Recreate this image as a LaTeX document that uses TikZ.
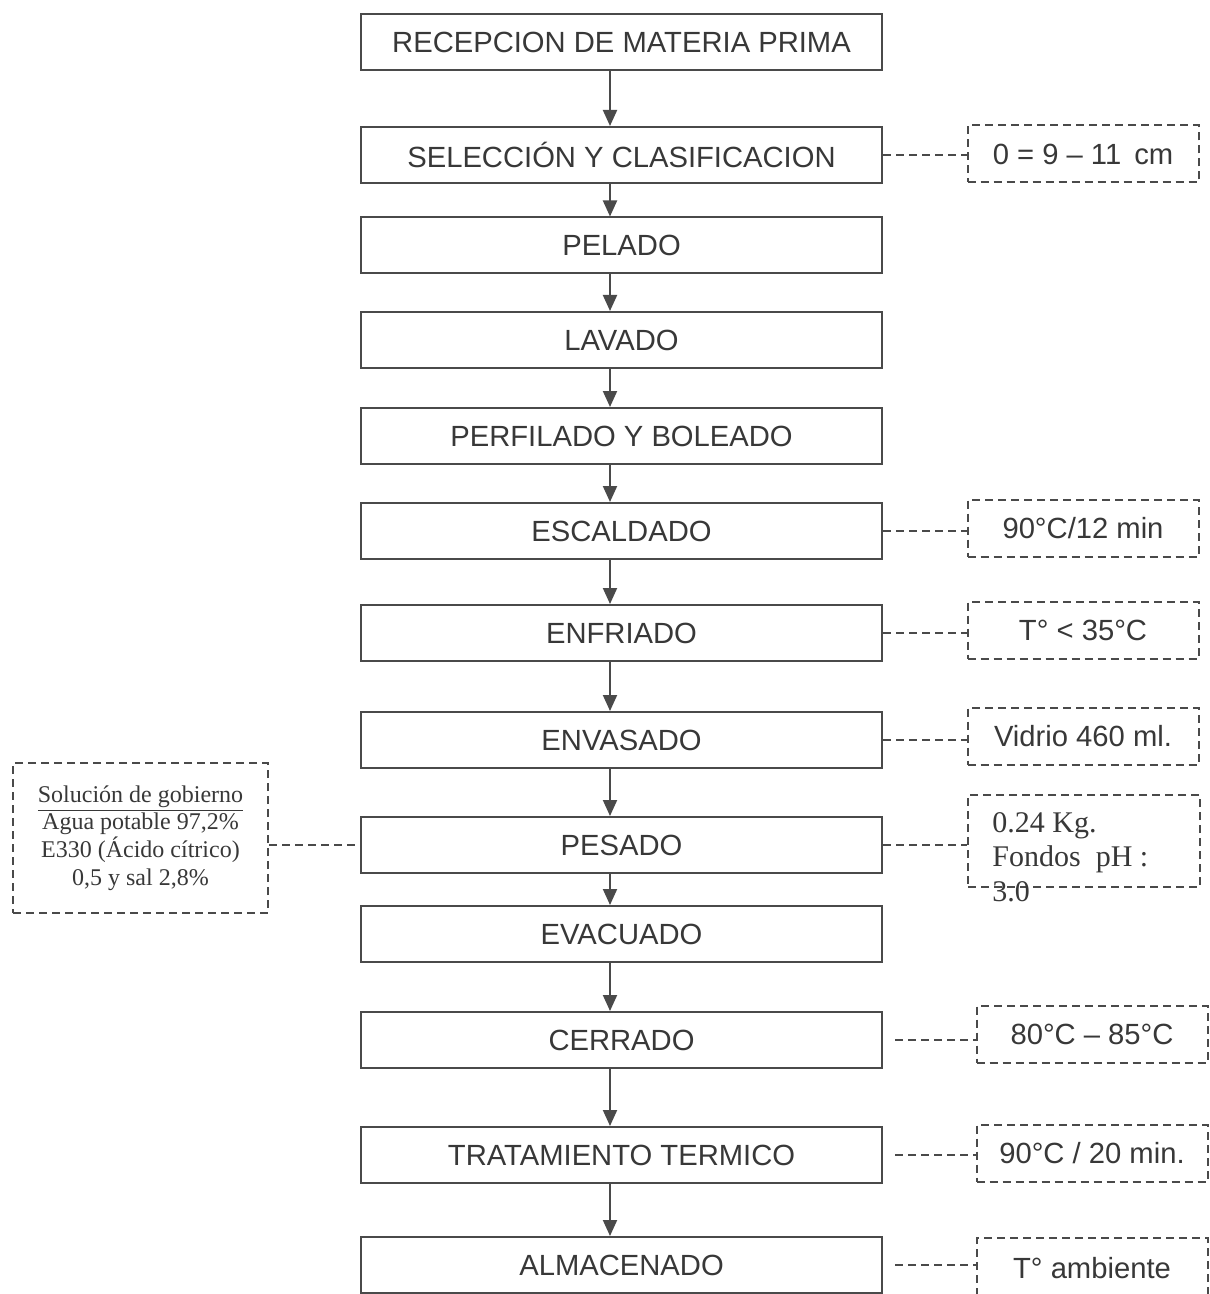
\documentclass[tikz,border=0pt]{standalone}
\usepackage{fontspec}
\setmainfont{Liberation Serif}
\newfontfamily\sansf{Liberation Sans}
\usetikzlibrary{arrows.meta}
\definecolor{linec}{HTML}{4A4A4A}
\definecolor{txtc}{HTML}{383838}
\begin{document}
\begin{tikzpicture}[x=0.5pt,y=-0.5pt,
 main/.style={draw=linec, line width=1pt, minimum width=260.5pt, minimum height=28pt, inner sep=0pt, font=\sansf\fontsize{14.6pt}{17pt}\selectfont, text=txtc},
 side/.style={draw=linec, line width=1pt, dash pattern=on 4pt off 2.5pt, minimum width=115.5pt, minimum height=28.5pt, inner sep=0pt, font=\sansf\fontsize{14.6pt}{17pt}\selectfont, text=txtc},
 link/.style={draw=linec, line width=1pt, dash pattern=on 4pt off 2.5pt},
 arr/.style={draw=linec, line width=1pt, -{Triangle[width=7pt,length=8pt]}},
 serift/.style={font=\fontsize{15pt}{17pt}\selectfont, text=txtc, inner sep=0pt, align=left}]
\fill[white] (0,0) rectangle (1209,1294);
\useasboundingbox (0,0) rectangle (1209,1294);
\clip (0,0) rectangle (1209,1294);

% main steps
\node[main] (b1) at (621.5,42) {RECEPCION DE MATERIA PRIMA};
\node[main] (b2) at (621.5,155) {SELECCIÓN Y CLASIFICACION};
\node[main] (b3) at (621.5,245.5) {PELADO};
\node[main] (b4) at (621.5,340) {LAVADO};
\node[main] (b5) at (621.5,436) {PERFILADO Y BOLEADO};
\node[main] (b6) at (621.5,531) {ESCALDADO};
\node[main] (b7) at (621.5,633) {ENFRIADO};
\node[main] (b8) at (621.5,740) {ENVASADO};
\node[main] (b9) at (621.5,845) {PESADO};
\node[main] (b10) at (621.5,934) {EVACUADO};
\node[main] (b11) at (621.5,1040) {CERRADO};
\node[main] (b12) at (621.5,1155) {TRATAMIENTO TERMICO};
\node[main] (b13) at (621.5,1265) {ALMACENADO};

% arrows
\foreach \a/\b in {b1/b2,b2/b3,b3/b4,b4/b5,b5/b6,b6/b7,b7/b8,b8/b9,b9/b10,b10/b11,b11/b12,b12/b13}
  \draw[arr] ([xshift=-5.75pt]\a.south) -- ([xshift=-5.75pt]\b.north);

% side notes
\node[side] (s2) at (1083,154) {0 = 9 – 11\, cm};
\node[side] (s6) at (1083,528) {90°C/12 min};
\node[side] (s7) at (1083,630) {T° < 35°C};
\node[side] (s8) at (1083,736) {Vidrio 460 ml.};
\node[side, minimum width=116pt, minimum height=46pt] (s9) at (1084,841) {};
\node[serift, anchor=north west] (t9) at (992,812) {0.24 Kg.\\[0.3pt]Fondos\ \ pH :\\[0.3pt]3.0};
\node[side] (s11) at (1092,1034) {80°C – 85°C};
\node[side] (s12) at (1092,1153) {90°C / 20 min.};
\node[side, minimum height=30pt] (s13) at (1092,1268) {T° ambiente};

% left note
\node[draw=linec, line width=1pt, dash pattern=on 4pt off 2.5pt, minimum width=127.5pt, minimum height=75pt, inner sep=0pt, align=center, text=txtc, font=\fontsize{12pt}{13.8pt}\selectfont] (L) at (140.5,838)
 {\underline{Solución de gobierno}\\Agua potable 97,2\%\\E330 (Ácido cítrico)\\0,5 y sal 2,8\%};

% dashed links
\draw[link] (b2.east) -- (b2.east -| s2.west);
\draw[link] (b6.east) -- (b6.east -| s6.west);
\draw[link] (b7.east) -- (b7.east -| s7.west);
\draw[link] (b8.east) -- (b8.east -| s8.west);
\draw[link] (b9.east) -- (b9.east -| s9.west);
\draw[link] ([xshift=6pt]b11.east) -- (b11.east -| s11.west);
\draw[link] ([xshift=6pt]b12.east) -- (b12.east -| s12.west);
\draw[link] ([xshift=6pt]b13.east) -- (b13.east -| s13.west);
\draw[link] (b9.west -| L.east) -- (b9.west);
\end{tikzpicture}
\end{document}
